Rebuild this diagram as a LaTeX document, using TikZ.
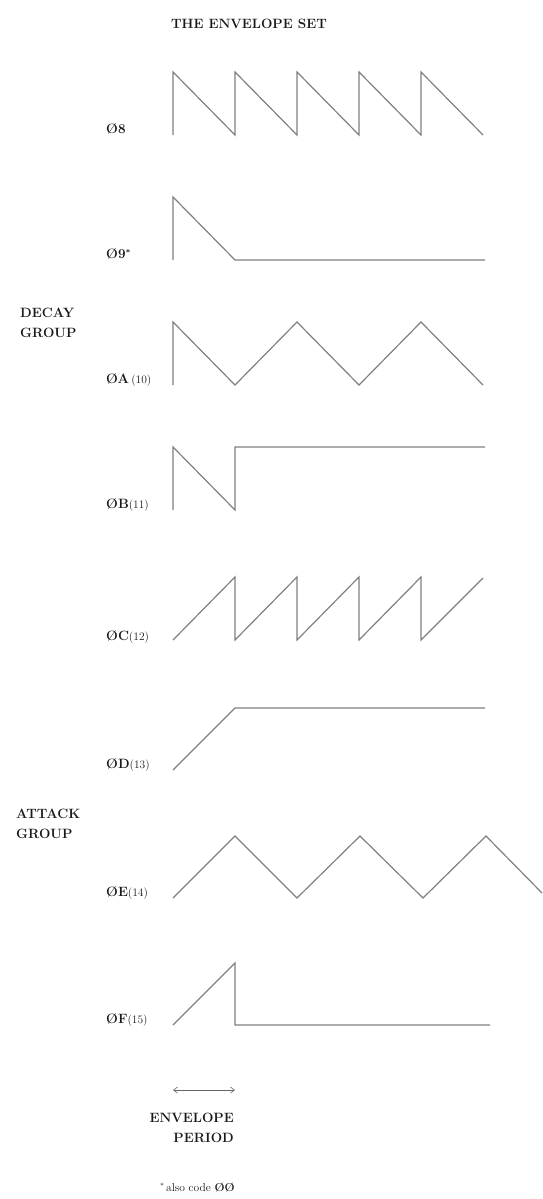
\documentclass[tikz,border=0pt]{standalone}
\usepackage{tikz}
\usetikzlibrary{arrows.meta}

\newcommand{\codenum}[1]{{\fontsize{11.5}{13}\selectfont\mdseries(#1)}}

\begin{document}
\begin{tikzpicture}[x=1pt, y=-1pt, every node/.style={inner sep=0pt, text=black!90},
  wave/.style={draw=black!50, line width=1.2pt, line join=miter},
  code/.style={anchor=base west, font=\fontsize{13.5}{15}\selectfont\bfseries},
  grp/.style={anchor=base west, font=\fontsize{13.5}{15}\selectfont\bfseries}]
  \useasboundingbox (0,0) rectangle (542,1199);
  \node[anchor=base, font=\fontsize{13.5}{15}\selectfont\bfseries] (title) at (249,29) {THE ENVELOPE SET};
  % decay group
  \draw[wave] (173,135) -- (173,72) -- (235,135) -- (235,72) -- (297,135) -- (297,72) -- (359,135) -- (359,72) -- (421,135) -- (421,72) -- (483,135);
  \node[code] (c08) at (106,133) {Ø8};
  \draw[wave] (173,260) -- (173,197) -- (235,260) -- (485,260);
  \node[code] (c09) at (106,258) {Ø9\raisebox{3pt}{\fontsize{8}{9}\selectfont*}};
  \node[grp] (decay1) at (20,317) {DECAY};
  \node[grp] (decay2) at (20,337) {GROUP};
  \draw[wave] (173,385) -- (173,322) -- (235,385) -- (297,322) -- (359,385) -- (421,322) -- (483,385);
  \node[code] (c0A) at (106,383) {ØA\,\codenum{10}};
  \draw[wave] (173,510) -- (173,447) -- (235,510) -- (235,447) -- (485,447);
  \node[code] (c0B) at (106,508) {ØB\codenum{11}};
  % attack group
  \draw[wave] (173,640) -- (235,577) -- (235,640) -- (297,577) -- (297,640) -- (359,577) -- (359,640) -- (421,577) -- (421,640) -- (483,578);
  \node[code] (c0C) at (106,640) {ØC\codenum{12}};
  \draw[wave] (173,770) -- (235,708) -- (485,708);
  \node[code] (c0D) at (106,768) {ØD\codenum{13}};
  \node[grp] (attack1) at (16,818) {ATTACK};
  \node[grp] (attack2) at (16,838) {GROUP};
  \draw[wave] (173,898) -- (235,836) -- (297,898) -- (360,836) -- (423,898) -- (486,836) -- (542,893);
  \node[code] (c0E) at (106,896) {ØE\codenum{14}};
  \draw[wave] (173,1025) -- (235,963) -- (235,1025) -- (490,1025);
  \node[code] (c0F) at (106,1023) {ØF\codenum{15}};
  % period
  \coordinate (pl) at (173,1090);
  \coordinate (pr) at (235,1090);
  \draw[black!60, line width=0.6pt, {Straight Barb[length=4pt,width=6pt]}-{Straight Barb[length=4pt,width=6pt]}] (pl) -- (pr);
  \node[grp, anchor=base east] (env1) at (234,1122) {ENVELOPE};
  \node[grp, anchor=base east] (env2) at (234,1142) {PERIOD};
  \node[anchor=base east, font=\fontsize{11.5}{13}\selectfont] (foot) at (235,1191) {\raisebox{3pt}{\fontsize{7}{8}\selectfont*}\,also code {\bfseries ØØ}};
\end{tikzpicture}
\end{document}
